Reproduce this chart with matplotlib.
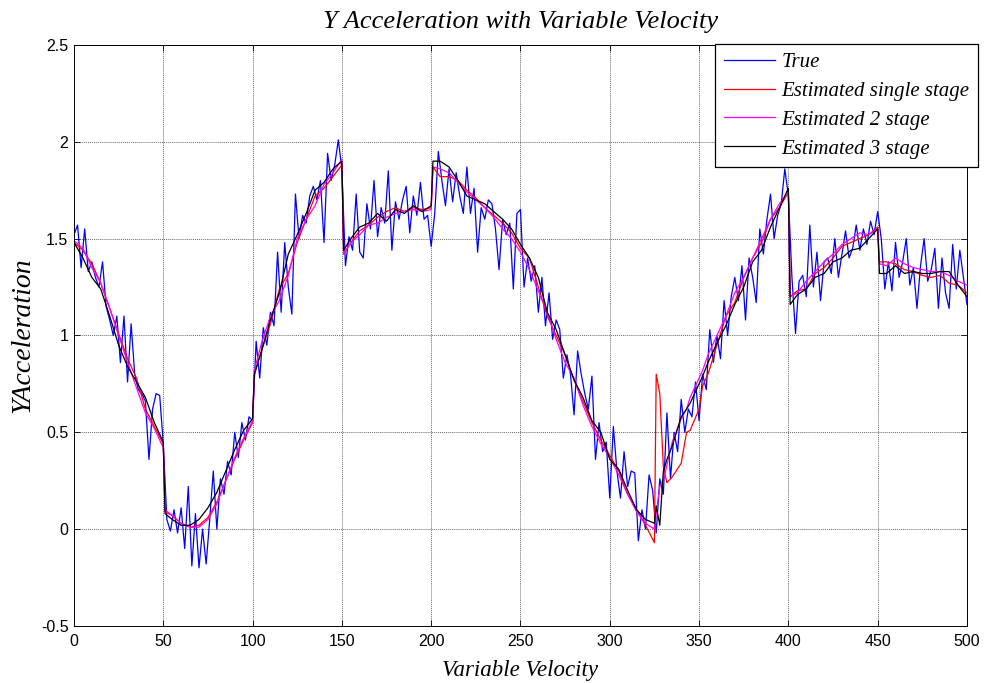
import numpy as np
import matplotlib
matplotlib.use("Agg")
import matplotlib.pyplot as plt
from matplotlib.ticker import FuncFormatter

# measured acceleration, one sample every 2 velocity units (0..500)
true_x = np.arange(0, 501, 2)
true_y = [
    1.52, 1.57, 1.35, 1.55, 1.33, 1.38, 1.30, 1.25, 1.38, 1.15,    # 0
    1.08, 1.00, 1.10, 0.86, 1.10, 0.76, 1.06, 0.80, 0.72, 0.70,    # 20
    0.66, 0.36, 0.62, 0.70, 0.69, 0.44, 0.05, -0.01, 0.10, -0.02,  # 40
    0.11, -0.10, 0.22, -0.19, 0.08, -0.20, 0.00, -0.18, 0.05, 0.30,  # 60
    0.00, 0.26, 0.18, 0.35, 0.28, 0.50, 0.37, 0.55, 0.46, 0.58,    # 80
    0.56, 0.97, 0.78, 1.04, 0.95, 1.12, 1.05, 1.43, 1.12, 1.48,    # 100
    1.25, 1.11, 1.73, 1.50, 1.62, 1.58, 1.72, 1.77, 1.70, 1.80,    # 120
    1.48, 1.94, 1.80, 1.88, 2.01, 1.86, 1.36, 1.51, 1.44, 1.73,    # 140
    1.43, 1.40, 1.68, 1.55, 1.80, 1.51, 1.66, 1.58, 1.85, 1.44,    # 160
    1.69, 1.60, 1.70, 1.77, 1.53, 1.72, 1.62, 1.79, 1.60, 1.62,    # 180
    1.46, 1.63, 1.95, 1.80, 1.67, 1.86, 1.69, 1.84, 1.72, 1.63,    # 200
    1.87, 1.63, 1.76, 1.43, 1.66, 1.60, 1.70, 1.68, 1.55, 1.34,    # 220
    1.60, 1.52, 1.58, 1.24, 1.63, 1.65, 1.25, 1.40, 1.28, 1.36,    # 240
    1.12, 1.30, 1.05, 1.22, 0.98, 1.08, 1.03, 0.78, 0.90, 0.80,    # 260
    0.59, 0.92, 0.80, 0.70, 0.62, 0.79, 0.36, 0.55, 0.40, 0.45,    # 280
    0.16, 0.53, 0.30, 0.16, 0.40, 0.22, 0.30, 0.29, -0.06, 0.10,   # 300
    0.00, 0.28, 0.20, -0.02, 0.26, 0.18, 0.60, 0.26, 0.50, 0.40,   # 320
    0.67, 0.50, 0.62, 0.58, 0.76, 0.56, 0.80, 0.72, 1.03, 0.86,    # 340
    1.00, 0.88, 1.18, 1.00, 1.20, 1.30, 1.18, 1.36, 1.08, 1.40,    # 360
    1.30, 1.17, 1.55, 1.42, 1.60, 1.73, 1.50, 1.62, 1.68, 1.86,    # 380
    1.72, 1.30, 1.01, 1.28, 1.31, 1.20, 1.57, 1.25, 1.43, 1.18,    # 400
    1.38, 1.40, 1.32, 1.50, 1.30, 1.42, 1.54, 1.40, 1.45, 1.57,    # 420
    1.44, 1.55, 1.47, 1.59, 1.52, 1.64, 1.50, 1.24, 1.38, 1.23,    # 440
    1.48, 1.30, 1.38, 1.50, 1.26, 1.35, 1.14, 1.36, 1.50, 1.28,    # 460
    1.34, 1.45, 1.14, 1.40, 1.22, 1.14, 1.47, 1.24, 1.44, 1.30,    # 480
    1.16,                                                          # 500
]

# estimator outputs share one velocity grid (extra points at the jumps)
est_x = [
    0, 5, 10, 15, 20, 25, 30, 35, 40, 45, 50,
    51, 55, 60, 65, 70, 75, 80, 85, 90, 95, 100,
    101, 105, 110, 115, 120, 125, 130, 135, 140, 145, 150,
    151, 155, 160, 165, 170, 175, 180, 185, 190, 195, 200,
    201, 205, 210, 215, 220, 225, 230, 235, 240, 245, 250,
    255, 260, 265, 270, 275, 280, 285, 290, 295, 300,
    305, 310, 315, 320, 325,
    326, 328, 330, 332, 335, 340, 343, 345, 350, 352, 355, 360,
    365, 370, 375, 380, 385, 390, 395, 400,
    401, 405, 410, 415, 420, 425, 430, 435, 440, 445, 450,
    451, 455, 460, 465, 470, 475, 480, 485, 490, 495, 500,
]

single_y = [
    1.48, 1.44, 1.37, 1.27, 1.14, 1.01, 0.88, 0.78, 0.62, 0.53, 0.44,
    0.09, 0.07, 0.03, 0.01, 0.02, 0.06, 0.14, 0.25, 0.36, 0.46, 0.55,
    0.80, 0.92, 1.06, 1.24, 1.32, 1.48, 1.60, 1.72, 1.76, 1.82, 1.88,
    1.42, 1.48, 1.54, 1.57, 1.61, 1.64, 1.66, 1.64, 1.66, 1.65, 1.66,
    1.87, 1.82, 1.82, 1.80, 1.75, 1.71, 1.66, 1.62, 1.58, 1.53, 1.45,
    1.40, 1.25, 1.10, 1.00, 0.90, 0.77, 0.66, 0.55, 0.46, 0.38,
    0.30, 0.18, 0.10, 0.02, -0.07,
    0.80, 0.70, 0.32, 0.24, 0.27, 0.34, 0.50, 0.51, 0.62, 0.74, 0.80, 0.95,
    1.10, 1.17, 1.30, 1.40, 1.48, 1.60, 1.66, 1.74,
    1.20, 1.23, 1.24, 1.32, 1.35, 1.40, 1.46, 1.48, 1.50, 1.52, 1.56,
    1.38, 1.38, 1.37, 1.34, 1.33, 1.31, 1.30, 1.31, 1.27, 1.26, 1.22,
]

two_stage_y = [
    1.49, 1.45, 1.35, 1.27, 1.14, 1.00, 0.86, 0.73, 0.60, 0.52, 0.42,
    0.10, 0.07, 0.03, 0.01, 0.01, 0.05, 0.13, 0.25, 0.37, 0.47, 0.56,
    0.82, 0.96, 1.10, 1.18, 1.31, 1.50, 1.60, 1.67, 1.78, 1.84, 1.91,
    1.42, 1.48, 1.52, 1.57, 1.58, 1.61, 1.63, 1.64, 1.65, 1.64, 1.65,
    1.87, 1.86, 1.84, 1.79, 1.74, 1.70, 1.66, 1.61, 1.55, 1.50, 1.43,
    1.34, 1.23, 1.12, 0.98, 0.86, 0.78, 0.64, 0.53, 0.44, 0.37,
    0.28, 0.18, 0.09, 0.03, 0.00,
    0.08, 0.22, 0.25, 0.33, 0.45, 0.57, 0.62, 0.68, 0.78, 0.82, 0.90, 1.00,
    1.10, 1.22, 1.30, 1.40, 1.50, 1.60, 1.68, 1.74,
    1.20, 1.22, 1.28, 1.33, 1.38, 1.42, 1.47, 1.50, 1.53, 1.52, 1.55,
    1.37, 1.36, 1.40, 1.37, 1.35, 1.34, 1.33, 1.33, 1.31, 1.28, 1.26,
]

three_stage_y = [
    1.48, 1.40, 1.30, 1.24, 1.10, 0.95, 0.84, 0.76, 0.68, 0.55, 0.45,
    0.08, 0.05, 0.02, 0.02, 0.05, 0.11, 0.19, 0.30, 0.41, 0.51, 0.57,
    0.80, 0.92, 1.08, 1.22, 1.42, 1.52, 1.63, 1.75, 1.79, 1.86, 1.90,
    1.44, 1.50, 1.56, 1.58, 1.63, 1.59, 1.65, 1.63, 1.67, 1.64, 1.67,
    1.90, 1.90, 1.87, 1.80, 1.72, 1.70, 1.68, 1.64, 1.60, 1.55, 1.47,
    1.40, 1.30, 1.12, 1.03, 0.90, 0.77, 0.68, 0.56, 0.50, 0.36,
    0.31, 0.20, 0.10, 0.05, 0.03,
    0.12, 0.02, 0.30, 0.36, 0.43, 0.58, 0.62, 0.65, 0.75, 0.79, 0.86, 0.96,
    1.05, 1.16, 1.25, 1.38, 1.44, 1.56, 1.66, 1.76,
    1.16, 1.21, 1.24, 1.30, 1.32, 1.38, 1.40, 1.44, 1.45, 1.50, 1.55,
    1.32, 1.32, 1.36, 1.32, 1.33, 1.32, 1.32, 1.33, 1.33, 1.26, 1.20,
]

labels = ["True", "Estimated single stage", "Estimated 2 stage", "Estimated 3 stage"]
colors = ["#0000ff", "#ff0000", "#ff00ff", "#000000"]

serif = {"family": "Liberation Serif", "style": "italic"}

fig = plt.figure(figsize=(9.85, 6.83), dpi=100)
ax = fig.add_axes([0.0751, 0.0835, 0.9066, 0.8507])

ax.plot(true_x, true_y, color=colors[0], lw=0.9, label=labels[0])
ax.plot(est_x, single_y, color=colors[1], lw=0.9, label=labels[1])
ax.plot(est_x, two_stage_y, color=colors[2], lw=0.9, label=labels[2])
ax.plot(est_x, three_stage_y, color=colors[3], lw=0.9, label=labels[3])

ax.set_xlim(0, 500)
ax.set_ylim(-0.5, 2.5)
ax.set_xticks(np.arange(0, 501, 50))
ax.set_yticks(np.arange(-0.5, 2.51, 0.5))
ax.yaxis.set_major_formatter(FuncFormatter(lambda v, p: f"{v:g}"))
ax.tick_params(direction="in", length=4, width=0.6, top=True, right=True,
               labelsize=11.5)
ax.tick_params(axis="x", pad=6)
ax.tick_params(axis="y", pad=4)
for t in ax.get_xticklabels() + ax.get_yticklabels():
    t.set_fontfamily("Liberation Sans")
ax.grid(True, linestyle=(0, (1, 1)), color="#6a6a6a", lw=0.7)
for s in ax.spines.values():
    s.set_linewidth(0.7)

ax.set_title("Y Acceleration with Variable Velocity", fontsize=19, pad=12, **serif)
ax.set_xlabel("Variable Velocity", fontsize=16.5, labelpad=8, **serif)
ax.set_ylabel("YAcceleration", fontsize=20, labelpad=4, **serif)

leg = ax.legend(loc="upper right", bbox_to_anchor=(1.0123, 1.0017),
                prop={"family": "Liberation Serif", "style": "italic", "size": 15},
                frameon=True, fancybox=False, framealpha=1, edgecolor="black",
                handlelength=2.45, handletextpad=0.3, labelspacing=0.44,
                borderpad=0.42, borderaxespad=0)
leg.get_frame().set_linewidth(0.9)

fig.savefig("out.png", dpi=100)
